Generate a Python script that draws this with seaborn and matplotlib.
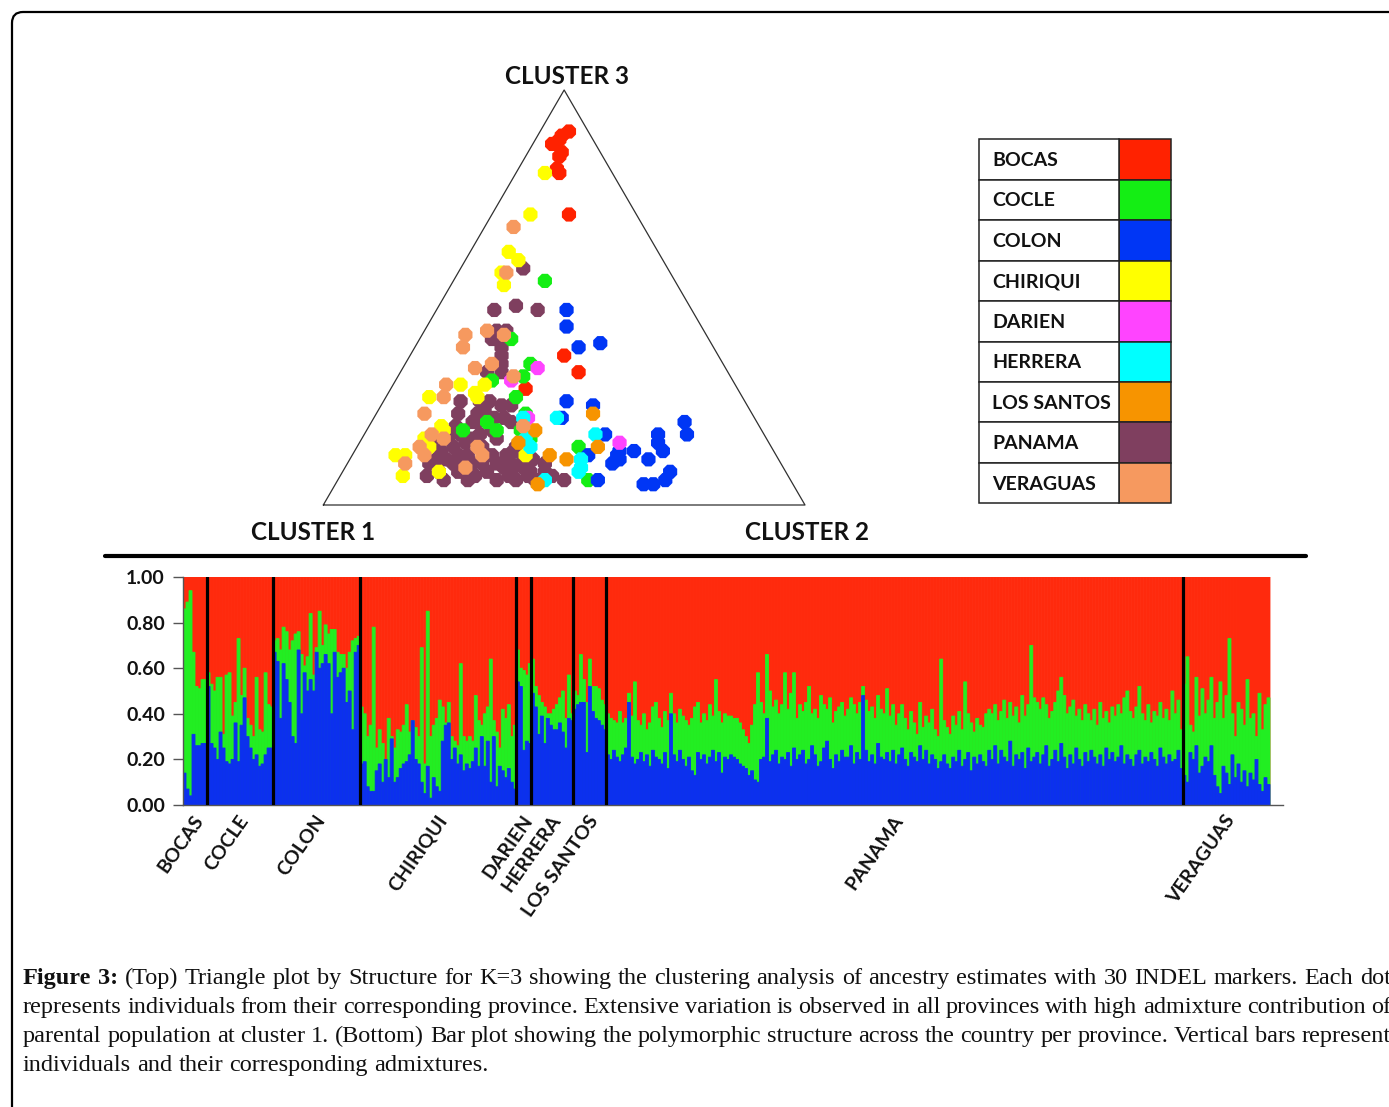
import numpy as np
import pandas as pd
import matplotlib
matplotlib.use("Agg")
import matplotlib.pyplot as plt
import matplotlib.transforms as mtransforms
from matplotlib.patches import FancyBboxPatch, Rectangle
from matplotlib.lines import Line2D
import seaborn as sns

# ---------------------------------------------------------------- data
provinces = ["BOCAS", "COCLE", "COLON", "CHIRIQUI", "DARIEN", "HERRERA",
             "LOS SANTOS", "PANAMA", "VERAGUAS"]
province_colors = ["#FF2200", "#14EE14", "#0036F5", "#FFFF00", "#FF44FF",
                   "#00FFFF", "#F79400", "#7F3F5F", "#F6995F"]

# Triangle plot: (cluster 2 %, cluster 3 %) for each individual; cluster 1 = rest
tri_bocas = [(5, 89), (6, 90), (5, 88), (4, 87), (7, 85), (7, 84), (8, 81), (9, 80),
             (16, 70), (32, 36), (37, 32), (28, 28)]
tri_cocle = [(19, 54), (19, 40), (26, 34), (26, 31), (20, 30), (27, 26), (31, 22),
             (27, 18), (32, 18), (35, 16), (46, 14), (52, 6), (20, 18), (24, 20)]
tri_colon = [(27, 47), (29, 43), (34, 38), (38, 39), (38, 25), (44, 24), (39, 21),
             (50, 17), (65, 20), (67, 17), (61, 17), (62, 15), (64, 13), (58, 13),
             (55, 12), (56, 11), (55, 10), (62, 11), (68, 8), (68, 6), (66, 5),
             (64, 5), (49, 12), (54, 6), (55, 13)]
tri_chiriqui = [(6, 80), (8, 70), (8, 61), (11, 59), (9, 56), (11, 53), (9, 26),
                (14, 29), (18, 27), (19, 26), (15, 19), (16, 18), (13, 16), (9, 12),
                (11, 12), (13, 7), (15, 14), (20, 8), (36, 12), (19, 29)]
tri_darien = [(28, 33), (24, 30), (32, 21), (54, 15)]
tri_herrera = [(38, 21), (31, 21), (48, 17), (48, 11), (49, 9), (49, 8), (36, 14),
               (43, 6), (34, 16)]
tri_lossantos = [(45, 22), (35, 18), (50, 14), (41, 12), (45, 11), (42, 5), (33, 15)]
tri_panama = [(13, 57), (12, 47), (16, 48), (21, 47), (15, 42), (17, 42), (15, 40),
              (18, 38), (19, 36), (18, 32), (21, 32), (20, 34), (22, 25), (22, 23),
              (25, 24), (27, 24), (27, 21), (16, 25), (17, 22), (21, 22), (21, 20),
              (18, 19), (18, 18), (15, 15), (18, 13), (20, 14), (22, 15), (23, 16),
              (26, 14), (29, 12), (32, 12), (33, 13), (36, 11), (38, 11), (41, 10),
              (44, 7), (17, 10), (20, 8), (22, 6), (24, 8), (27, 6), (28, 7), (30, 8),
              (33, 6), (35, 7), (37, 6), (39, 7), (41, 6), (42, 8), (20, 11), (22, 10),
              (24, 11), (26, 10), (28, 10), (31, 10), (33, 9), (35, 8), (37, 9),
              (39, 8), (22, 12), (24, 12), (24, 17), (26, 18), (28, 16), (34, 10),
              (47, 6), (18, 7), (18, 11), (18, 16), (20, 17), (22, 20), (20, 25),
              (29, 20), (25, 21), (33, 14)]
tri_veraguas = [(6, 67), (10, 56), (9, 41), (10, 38), (13, 42), (17, 41), (15, 33),
                (18, 34), (11, 29), (12, 26), (10, 22), (14, 17), (17, 16), (13, 14),
                (15, 12), (12, 10), (25, 9), (25, 14), (27, 12), (24, 31), (32, 19)]

# Bar plot: blue share (%) and blue+green share (%) for each individual; red = rest
bocas_blue = [14, 7, 4, 31, 26, 26, 27, 27]
bocas_top = [86, 89, 94, 67, 52, 51, 55, 55]
cocle_blue = [52, 27, 25, 20, 32, 25, 19, 18, 20, 36, 19, 35, 47, 30, 25, 20, 22, 17,
              18, 22, 25, 25]
cocle_top = [58, 53, 50, 56, 56, 31, 57, 58, 39, 45, 73, 48, 60, 38, 35, 30, 56, 33,
             32, 58, 44, 43]
colon_blue = [67, 63, 38, 62, 55, 45, 30, 27, 68, 40, 58, 50, 55, 50, 67, 60, 62, 66,
              62, 40, 67, 56, 58, 60, 45, 50, 33, 67, 70]
colon_top = [72, 73, 68, 78, 76, 68, 72, 75, 76, 66, 61, 65, 84, 57, 69, 85, 70, 79,
             75, 77, 77, 67, 66, 66, 60, 67, 72, 73, 74]
chiriqui_blue = [18, 19, 8, 6, 6, 15, 18, 10, 20, 12, 29, 10, 12, 16, 18, 19, 22, 37,
                 20, 18, 10, 5, 17, 3, 12, 8, 6, 28, 35, 36, 20, 25, 18, 22, 15, 18,
                 16, 19, 25, 17, 30, 17, 28, 10, 30, 8, 17, 15, 12, 16, 10, 7]
chiriqui_top = [43, 40, 30, 35, 78, 25, 33, 27, 20, 38, 30, 25, 33, 32, 35, 44, 32, 37,
                34, 30, 69, 18, 85, 30, 35, 38, 46, 43, 36, 45, 30, 28, 26, 62, 30, 28,
                30, 28, 48, 37, 35, 40, 43, 64, 37, 32, 25, 42, 38, 44, 30, 35]
darien_blue = [54, 52, 24, 28, 27]
darien_top = [68, 60, 59, 57, 62]
herrera_blue = [49, 43, 31, 39, 27, 38, 35, 33, 33, 36, 32, 25, 38, 37]
herrera_top = [64, 52, 48, 45, 43, 40, 40, 42, 44, 47, 50, 38, 57, 40]
lossantos_blue = [42, 44, 45, 45, 23, 52, 41, 38, 37, 35, 33]
lossantos_top = [50, 48, 66, 55, 45, 64, 52, 52, 51, 46, 44]
panama_blue = [22, 20, 24, 21, 19, 22, 25, 45, 21, 18, 20, 23, 19, 22, 17, 24,
               21, 20, 18, 23, 16, 40, 22, 19, 24, 20, 17, 21, 15, 13, 23, 20,
               22, 18, 21, 24, 19, 23, 14, 21, 20, 22, 21, 20, 18, 17, 16, 13,
               15, 11, 10, 20, 21, 38, 19, 22, 24, 18, 21, 20, 23, 17, 25, 20,
               22, 24, 18, 20, 26, 22, 17, 19, 25, 28, 20, 16, 22, 19, 24, 21,
               21, 26, 18, 23, 20, 48, 24, 19, 22, 18, 27, 21, 20, 23, 19, 24,
               18, 22, 25, 20, 17, 23, 21, 19, 26, 20, 24, 18, 22, 20, 16, 19,
               22, 18, 16, 21, 19, 24, 17, 20, 23, 15, 21, 18, 22, 19, 17, 24,
               20, 26, 18, 24, 21, 19, 28, 17, 22, 20, 23, 16, 25, 19, 21, 23,
               18, 22, 26, 17, 20, 24, 19, 27, 21, 16, 22, 18, 25, 20, 17, 23,
               19, 24, 21, 18, 22, 17, 25, 20, 23, 19, 21, 26, 18, 22, 20, 17,
               22, 24, 18, 21, 19, 23, 20, 17, 25, 21, 18, 22, 19, 20, 24, 16]
panama_top = [40, 38, 37, 36, 41, 36, 38, 49, 39, 54, 37, 35, 40, 33, 36, 43,
              45, 38, 34, 41, 37, 49, 40, 36, 42, 39, 37, 35, 38, 43, 45, 36,
              40, 37, 44, 39, 55, 41, 36, 40, 39, 39, 38, 38, 36, 33, 30, 27,
              35, 44, 58, 45, 40, 66, 50, 43, 46, 40, 44, 58, 42, 49, 58, 38,
              44, 41, 45, 52, 40, 42, 38, 48, 44, 42, 47, 36, 41, 43, 45, 39,
              42, 47, 44, 40, 45, 52, 46, 41, 43, 38, 48, 42, 40, 51, 39, 44,
              35, 40, 44, 38, 33, 41, 36, 31, 45, 34, 39, 36, 42, 33, 30, 64,
              37, 34, 31, 39, 35, 41, 33, 54, 40, 36, 32, 38, 35, 34, 40, 42,
              40, 44, 37, 41, 46, 38, 45, 39, 43, 36, 48, 39, 44, 70, 47, 45,
              42, 47, 44, 38, 41, 45, 50, 56, 48, 40, 43, 46, 39, 42, 37, 44,
              40, 37, 42, 35, 45, 38, 41, 36, 43, 39, 44, 40, 47, 50, 41, 38,
              43, 52, 40, 37, 44, 36, 41, 39, 45, 38, 42, 37, 50, 40, 46, 33]
veraguas_blue = [13, 10, 23, 20, 26, 14, 17, 21, 19, 26, 13, 8, 5, 17, 14, 9, 22, 12,
                 18, 10, 15, 8, 14, 11, 20, 9, 6, 12, 9]
veraguas_top = [53, 65, 35, 32, 56, 39, 51, 40, 46, 56, 38, 45, 54, 38, 48, 73, 40, 30,
                45, 42, 35, 55, 38, 40, 30, 49, 33, 44, 47]

ytick_values = [0.0, 0.2, 0.4, 0.6, 0.8, 1.0]
ytick_labels = ["0.00", "0.20", "0.40", "0.60", "0.80", "1.00"]
cluster_labels = ["CLUSTER 1", "CLUSTER 2", "CLUSTER 3"]

caption_lines = [
    "Figure 3: (Top) Triangle plot by Structure for K=3 showing the clustering analysis of ancestry estimates with 30 INDEL markers. Each dot",
    "represents individuals from their corresponding province. Extensive variation is observed in all provinces with high admixture contribution of",
    "parental population at cluster 1. (Bottom) Bar plot showing the polymorphic structure across the country per province. Vertical bars represent",
    "individuals and their corresponding admixtures.",
]

BAR_RED, BAR_GREEN, BAR_BLUE = "#FF2A0D", "#22EE22", "#0C30EE"

# ---------------------------------------------------------------- figure
W, H = 1389, 1107
sns.set_theme(style="white")
plt.rcParams['font.family'] = ['Lato', 'DejaVu Sans']
fig = plt.figure(figsize=(W / 100, H / 100), dpi=100)
fig.patch.set_facecolor("white")
PIX = mtransforms.IdentityTransform()


def axrect(x0, y0, x1, y1):
    return [x0 / W, 1 - y1 / H, (x1 - x0) / W, (y1 - y0) / H]


def ptext(x, y, s, **kw):
    return fig.text(x, H - y, s, transform=PIX, **kw)


# frame
fig.patches.append(FancyBboxPatch((12, -60), 1600, H - 12 + 60, transform=PIX,
                                  boxstyle="round,pad=0,rounding_size=11",
                                  fc="none", ec="black", lw=1.6))

# ---------------------------------------------------------------- triangle
pal = dict(zip(provinces, province_colors))
tri_lists = dict(zip(provinces, [tri_bocas, tri_cocle, tri_colon, tri_chiriqui,
                                 tri_darien, tri_herrera, tri_lossantos,
                                 tri_panama, tri_veraguas]))
draw_order = ["PANAMA", "BOCAS", "COCLE", "COLON", "CHIRIQUI", "DARIEN", "HERRERA",
              "LOS SANTOS", "VERAGUAS"]
rows = []
for p in draw_order:
    for q2, q3 in tri_lists[p]:
        rows.append((p, q2 / 100.0, q3 / 100.0))
tdf = pd.DataFrame(rows, columns=["province", "q2", "q3"])
tdf["x"] = tdf["q2"] + tdf["q3"] / 2
tdf["y"] = tdf["q3"] * np.sqrt(3) / 2

ax_t = fig.add_axes(axrect(323.3, 90, 805, 505))
s3 = np.sqrt(3) / 2
ax_t.plot([0, 1, 0.5, 0], [0, 0, s3, 0], color="#303030", lw=0.9, clip_on=False)
sns.scatterplot(data=tdf, x="x", y="y", hue="province", palette=pal, s=122,
                marker="8", linewidth=0, legend=False, ax=ax_t, clip_on=False)
ax_t.set_xlim(0, 1)
ax_t.set_ylim(0, s3)
ax_t.axis("off")

lab_kw = dict(fontsize=17.5, fontweight="bold", color="#111111", ha="center",
              va="center")
ptext(567, 76, cluster_labels[2], **lab_kw)
ptext(313, 532, cluster_labels[0], **lab_kw)
ptext(807, 532, cluster_labels[1], **lab_kw)

# ---------------------------------------------------------------- legend table
lx0, lx1, ldiv, ly0, ly1 = 979.3, 1171, 1119.3, 139.3, 503.3
rh = (ly1 - ly0) / len(provinces)
for i, (p, c) in enumerate(zip(provinces, province_colors)):
    top = ly0 + i * rh
    fig.patches.append(Rectangle((ldiv, H - top - rh), lx1 - ldiv, rh, transform=PIX,
                                 fc=c, ec="#222222", lw=1.1))
    fig.patches.append(Rectangle((lx0, H - top - rh), ldiv - lx0, rh, transform=PIX,
                                 fc="white", ec="#222222", lw=1.1))
    ptext(992.3, top + rh / 2 + 1, p, fontsize=14, fontweight="bold",
          color="#111111", ha="left", va="center")

# separator line
fig.add_artist(Line2D([105 / W, 1306 / W], [1 - 555.5 / H, 1 - 555.5 / H],
                      transform=fig.transFigure, color="black", lw=3))

# ---------------------------------------------------------------- bar plot
blue_lists = [bocas_blue, cocle_blue, colon_blue, chiriqui_blue, darien_blue,
              herrera_blue, lossantos_blue, panama_blue, veraguas_blue]
top_lists = [bocas_top, cocle_top, colon_top, chiriqui_top, darien_top,
             herrera_top, lossantos_top, panama_top, veraguas_top]
counts = [len(b) for b in blue_lists]
blue = np.concatenate(blue_lists) / 100.0
top = np.maximum(np.concatenate(top_lists) / 100.0, blue)
n = len(blue)
bdf = pd.DataFrame({"ind": np.arange(n), "red": np.ones(n), "green": top,
                    "blue": blue})

ax_b = fig.add_axes(axrect(183, 577, 1283, 805))
for col, c in [("red", BAR_RED), ("green", BAR_GREEN), ("blue", BAR_BLUE)]:
    sns.barplot(data=bdf, x="ind", y=col, color=c, native_scale=True, width=1,
                saturation=1, linewidth=0.6, edgecolor=c, errorbar=None, ax=ax_b)
for patch in ax_b.patches:
    patch.set_snap(False)
bounds = np.cumsum(counts)
for b in bounds[:-1]:
    ax_b.axvline(b - 0.5, color="black", lw=2.3, zorder=5)
ax_b.set_xlim(-0.5, -0.5 + n * 1100 / 1087)
ax_b.set_ylim(0, 1)
ax_b.set_xlabel("")
ax_b.set_ylabel("")
ax_b.set_xticks([])
ax_b.set_yticks(ytick_values)
ax_b.set_yticklabels(ytick_labels, fontsize=14, fontweight="bold", color="#111111")
ax_b.tick_params(axis="y", left=True, length=7, width=1, color="#555555", pad=6)
for side in ["top", "right"]:
    ax_b.spines[side].set_visible(False)
for side in ["left", "bottom"]:
    ax_b.spines[side].set_color("#555555")
    ax_b.spines[side].set_linewidth(1.0)

starts = np.concatenate([[0], bounds[:-1]])
lab_trans = mtransforms.blended_transform_factory(ax_b.transData, ax_b.transAxes) + \
    mtransforms.ScaledTranslation(5 / 100, -12 / 100, fig.dpi_scale_trans)
for p, s0, e0 in zip(provinces, starts, bounds):
    cx = (s0 + e0) / 2 - 0.5
    ax_b.text(cx, 0, p, transform=lab_trans, rotation=55, rotation_mode="anchor",
              ha="right", va="center", fontsize=14, fontweight="bold",
              color="#111111")

# ---------------------------------------------------------------- caption
renderer = fig.canvas.get_renderer()
serif = "Liberation Serif"


def width_of(s, fs, weight="normal"):
    t = ptext(0, 0, s, fontsize=fs, family=serif, weight=weight)
    w = t.get_window_extent(renderer).width
    t.remove()
    return w


cap_fs = 16 * 463 / width_of(caption_lines[3], 16)
space_w = width_of("a a", cap_fs) - width_of("aa", cap_fs)
x_left, x_right = 23, 1391
baselines = [984, 1013, 1042, 1071]
for li, line in enumerate(caption_lines):
    words = line.split(" ")
    weights = ["bold" if (li == 0 and wi < 2) else "normal" for wi in range(len(words))]
    widths = [width_of(w, cap_fs, wt) for w, wt in zip(words, weights)]
    if li < 3:
        gap = (x_right - x_left - sum(widths)) / (len(words) - 1)
    else:
        gap = space_w
    x = x_left
    for w, wt, ww in zip(words, weights, widths):
        ptext(x, baselines[li], w, fontsize=cap_fs, family=serif, weight=wt,
              color="#111111", ha="left", va="baseline")
        x += ww + gap

fig.savefig("out.png", dpi=100, facecolor="white")
